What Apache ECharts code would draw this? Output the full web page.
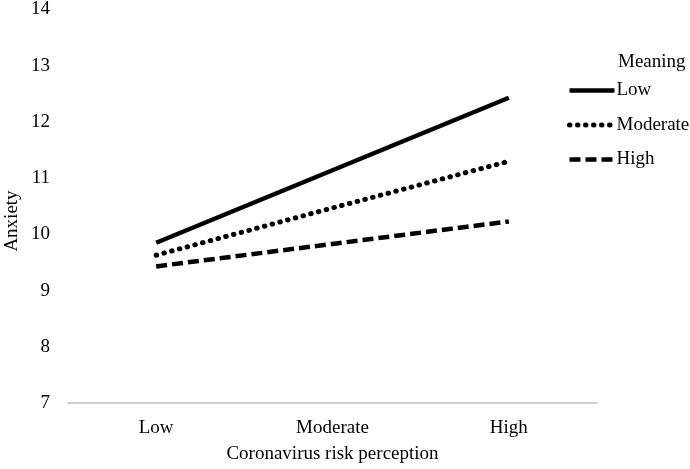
<!DOCTYPE html>
<html>
<head>
<meta charset="utf-8">
<script src="https://cdn.jsdelivr.net/npm/echarts@6/dist/echarts.min.js"></script>
<style>html,body{margin:0;padding:0;background:#fff;overflow:hidden}#c{width:690px;height:469px}</style>
</head>
<body>
<div id="c"></div>
<script>
var categories = ['Low', 'Moderate', 'High'];
var lowMeaning = [9.85, 11.14, 12.43];
var moderateMeaning = [9.63, 10.47, 11.30];
var highMeaning = [9.43, 9.83, 10.23];
var yTicks = [7, 8, 9, 10, 11, 12, 13, 14];

var FONT = '"Liberation Serif", "Times New Roman", serif';
var chart = echarts.init(document.getElementById('c'), null, {renderer: 'canvas', width: 690, height: 469});
chart.setOption({
  animation: false,
  backgroundColor: '#fff',
  textStyle: {fontFamily: FONT, color: '#000'},
  grid: {left: 68, right: 93, top: 7, bottom: 62, containLabel: false},
  title: {text: 'Meaning', left: 618, top: 53, padding: 0,
    textStyle: {fontFamily: FONT, fontSize: 19, fontWeight: 'normal', color: '#000'}},
  legend: {
    orient: 'vertical', left: 567, top: 81, padding: 0,
    itemWidth: 45, itemHeight: 20, itemGap: 15.5,
    itemStyle: {color: 'rgba(0,0,0,0)', borderWidth: 0, opacity: 0},
    textStyle: {fontFamily: FONT, fontSize: 19, color: '#000', padding: [0, 0, 0, -3]},
    data: [
      {name: 'Low', lineStyle: {width: 4.5, type: 'solid', color: '#000'}},
      {name: 'Moderate', lineStyle: {width: 5, type: [0.5, 7.5], cap: 'round', color: '#000'}},
      {name: 'High', lineStyle: {width: 4.5, type: [11, 5], color: '#000'}}
    ]
  },
  graphic: [{
    type: 'text', x: 12, y: 221, rotation: Math.PI / 2,
    style: {text: 'Anxiety', fontFamily: FONT, fontSize: 19, fill: '#000',
      textAlign: 'center', textVerticalAlign: 'middle'}
  }],
  xAxis: {
    type: 'category', data: categories, boundaryGap: true,
    name: 'Coronavirus risk perception', nameLocation: 'middle', nameGap: 42,
    nameTextStyle: {fontFamily: FONT, fontSize: 19, color: '#000'},
    axisLine: {lineStyle: {color: '#bfbfbf', width: 1.5}},
    axisTick: {show: false},
    axisLabel: {fontFamily: FONT, fontSize: 19, color: '#000', margin: 16}
  },
  yAxis: {
    type: 'value', min: yTicks[0], max: yTicks[yTicks.length - 1], interval: 1,
    axisLine: {show: false}, axisTick: {show: false}, splitLine: {show: false},
    axisLabel: {fontFamily: FONT, fontSize: 19, color: '#000', margin: 18}
  },
  series: [
    {name: 'Low', type: 'line', data: lowMeaning, symbol: 'none',
      lineStyle: {color: '#000', width: 4.5, type: 'solid'}, itemStyle: {color: '#000'}},
    {name: 'Moderate', type: 'line', data: moderateMeaning, symbol: 'none',
      lineStyle: {color: '#000', width: 5, type: [0.5, 7.5], cap: 'round'}, itemStyle: {color: '#000'}},
    {name: 'High', type: 'line', data: highMeaning, symbol: 'none',
      lineStyle: {color: '#000', width: 4.5, type: [11, 5], cap: 'butt'}, itemStyle: {color: '#000'}}
  ]
});
</script>
</body>
</html>
